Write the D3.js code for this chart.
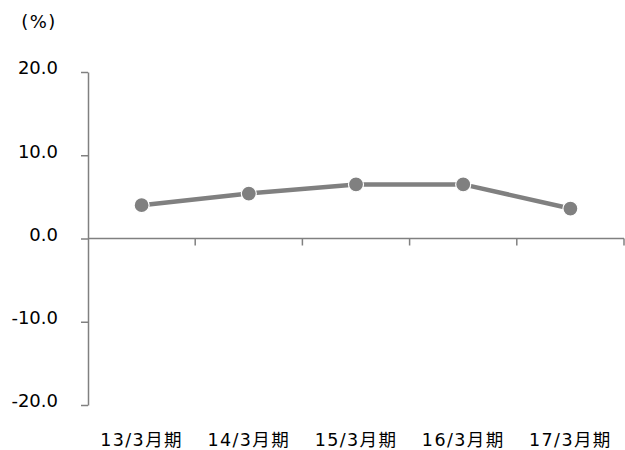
<!DOCTYPE html>
<html>
<head>
<meta charset="utf-8">
<script src="https://cdn.jsdelivr.net/npm/d3@7"></script>
<style>
  body { margin: 0; background: #fff; }
  text { font-family: "DejaVu Sans", "Noto Sans CJK JP", sans-serif; fill: #000; }
</style>
</head>
<body>
<div id="chart"></div>
<script>
// data
const periods = ["13/3月期", "14/3月期", "15/3月期", "16/3月期", "17/3月期"];
const growth = [4.0, 5.4, 6.5, 6.5, 3.6];
const yTicks = [-20, -10, 0, 10, 20];
const unitLabel = "(%)";

const width = 625, height = 450;
const margin = { top: 72, right: 1, bottom: 45, left: 88 };
const grey = "#808080";

const svg = d3.select("#chart").append("svg")
    .attr("width", width)
    .attr("height", height);

const x = d3.scaleBand()
    .domain(periods)
    .range([margin.left, width - margin.right]);

const y = d3.scaleLinear()
    .domain([-20, 20])
    .range([height - margin.bottom, margin.top]);

// y axis
const yAxis = svg.append("g")
    .attr("transform", `translate(${margin.left},0)`)
    .call(d3.axisLeft(y).tickValues(yTicks).tickFormat(d => d.toFixed(1)).tickSize(7).tickSizeOuter(0).tickPadding(23));
yAxis.select(".domain").attr("stroke", grey).attr("stroke-width", 1.5);
yAxis.selectAll(".tick line").attr("stroke", grey).attr("stroke-width", 1.5);
yAxis.selectAll(".tick text")
    .style("font-size", "18px")
    .style("font-family", "'DejaVu Sans', sans-serif")
    .attr("dy", "0.1em");

// x axis on the zero line, ticks at band edges
const xAxis = svg.append("g")
    .attr("transform", `translate(0,${y(0)})`);
xAxis.append("line")
    .attr("x1", margin.left).attr("x2", width - margin.right)
    .attr("stroke", grey).attr("stroke-width", 1.5);
xAxis.selectAll("line.edge")
    .data(periods)
    .join("line")
    .attr("class", "edge")
    .attr("x1", d => x(d) + x.bandwidth())
    .attr("x2", d => x(d) + x.bandwidth())
    .attr("y1", 0).attr("y2", 7)
    .attr("stroke", grey).attr("stroke-width", 1.5);

// category labels at the bottom
svg.append("g").selectAll("text")
    .data(periods)
    .join("text")
    .attr("x", d => x(d) + x.bandwidth() / 2)
    .attr("y", 446)
    .attr("text-anchor", "middle")
    .style("font-size", "17.5px")
    .style("letter-spacing", "1.4px")
    .text(d => d);

// unit label
svg.append("text")
    .attr("x", 39).attr("y", 28)
    .attr("text-anchor", "middle")
    .style("font-size", "18px")
    .style("letter-spacing", "1.5px")
    .text(unitLabel);

// line + markers
const line = d3.line()
    .x((d, i) => x(periods[i]) + x.bandwidth() / 2)
    .y(d => y(d));

svg.append("path")
    .datum(growth)
    .attr("fill", "none")
    .attr("stroke", grey)
    .attr("stroke-width", 4.5)
    .attr("d", line);

svg.append("g").selectAll("circle")
    .data(growth)
    .join("circle")
    .attr("cx", (d, i) => x(periods[i]) + x.bandwidth() / 2)
    .attr("cy", d => y(d))
    .attr("r", 7.5)
    .attr("fill", grey)
    .attr("stroke", "#fff")
    .attr("stroke-width", 1.2);
</script>
</body>
</html>
